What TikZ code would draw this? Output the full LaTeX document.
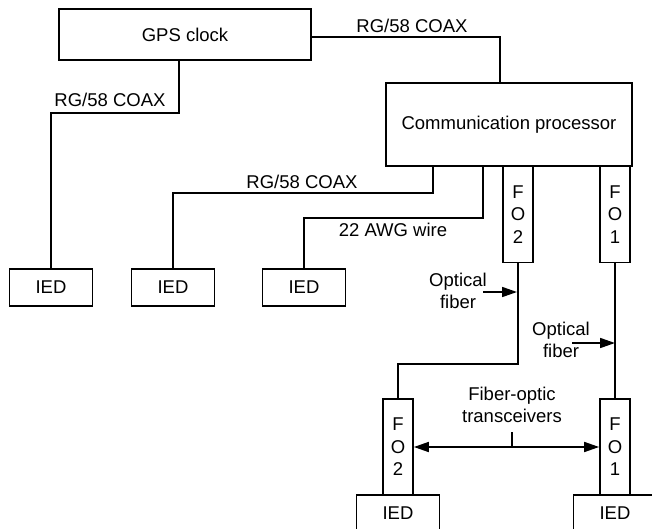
\documentclass[tikz,border=0pt]{standalone}
\usepackage{fontspec}
\setmainfont{Liberation Sans}
\usetikzlibrary{arrows.meta}
\begin{document}
\begin{tikzpicture}[x=1pt,y=-1pt, line width=1.7pt,
  txt/.style={font=\fontsize{18.5pt}{22.5pt}\selectfont},
  box/.style={draw, rectangle, inner sep=0pt, txt},
  fobox/.style={box, minimum width=30pt, minimum height=96pt, align=center},
  iedbox/.style={box, minimum width=83pt, minimum height=37pt},
  lbl/.style={txt, inner sep=0pt, align=center},
  tip/.style={-{Triangle[length=15pt,width=10pt]}},
  dtip/.style={{Triangle[length=15pt,width=10pt]}-{Triangle[length=15pt,width=10pt]}}
]
\useasboundingbox (0,0) rectangle (652,529);
\clip (0,0) rectangle (652,529);

% boxes
\node[box, minimum width=252pt, minimum height=51pt] (gps) at (185,34.5) {GPS clock};
\node[box, minimum width=246pt, minimum height=83pt] (comm) at (509,124.5) {Communication processor};
\node[iedbox] (ied1) at (51,287.5) {IED};
\node[iedbox] (ied2) at (173,287.5) {IED};
\node[iedbox] (ied3) at (304,287.5) {IED};
\node[fobox] (fo2u) at (518,214.5) {F\\O\\2};
\node[fobox] (fo1u) at (615,214.5) {F\\O\\1};
\node[fobox] (fo2l) at (398,447) {F\\O\\2};
\node[fobox] (fo1l) at (615,447) {F\\O\\1};
\node[iedbox] (ied4) at (398,513.5) {IED};
\node[iedbox] (ied5) at (615,513.5) {IED};

% labels
\node[lbl] (l1) at (412,26) {RG/58 COAX};
\node[lbl] (l2) at (110,100) {RG/58 COAX};
\node[lbl] (l3) at (302,182) {RG/58 COAX};
\node[lbl] (l4) at (393,230) {22 AWG wire};
\node[lbl] (of1) at (458,291) {Optical\\fiber};
\node[lbl] (of2) at (561,340) {Optical\\fiber};
\node[lbl] (tr) at (512,405) {Fiber-optic\\transceivers};

% coordinates
\coordinate (k1) at (51,113);
\coordinate (k2) at (173,193);
\coordinate (k3) at (304,218);
\coordinate (k4) at (398,364);
\coordinate (a1s) at (483,292);
\coordinate (a1e) at (517,292);
\coordinate (a2s) at (572,343);
\coordinate (a2e) at (615,343);
\coordinate (t1) at (512,432);

% connectors
\draw ([yshift=-2.5pt]gps.east) -| ([xshift=-9pt]comm.north);
\draw ([xshift=-6pt]gps.south) |- (k1) -- (ied1.north);
\draw ([xshift=-76pt]comm.south) |- (k2) -- (ied2.north);
\draw ([xshift=-26pt]comm.south) |- (k3) -- (ied3.north);
\draw (fo2u.south) |- (k4) -- (fo2l.north);
\draw (fo1u.south) -- (fo1l.north);
\draw[dtip] (fo2l.east) -- (fo1l.west);
\draw (t1) -- (t1 |- fo2l.east);
\draw[tip] (a1s) -- (a1e);
\draw[tip] (a2s) -- (a2e);
\end{tikzpicture}
\end{document}
